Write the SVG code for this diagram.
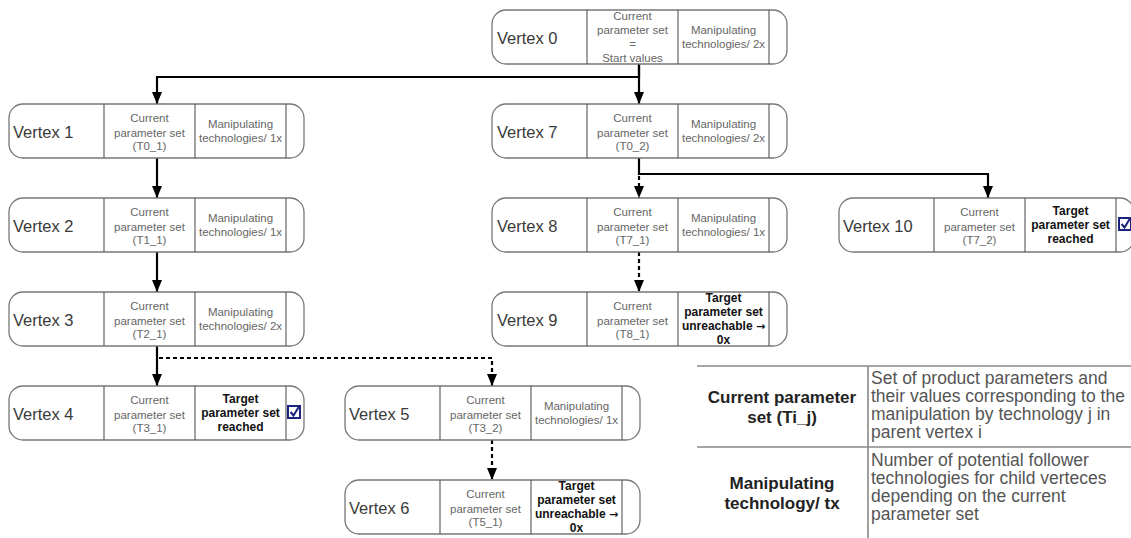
<svg xmlns="http://www.w3.org/2000/svg" width="1131" height="538" viewBox="0 0 1131 538">
<defs>
<style>
.box{fill:#fff;stroke:#777;stroke-width:1.3}
.div{stroke:#555;stroke-width:1.1}
.lbl{font-family:"Liberation Sans",Arial,sans-serif;font-size:16.5px;fill:#3a3a3a}
.cell{font-family:"Liberation Sans",Arial,sans-serif;font-size:11.5px;fill:#666;text-anchor:middle}
.bold{font-family:"Liberation Sans",Arial,sans-serif;font-size:12px;font-weight:bold;fill:#111;text-anchor:middle}
.arr{font-family:"DejaVu Sans",sans-serif;font-size:11px}
.conn{fill:none;stroke:#000;stroke-width:2.2}
.dot{stroke-dasharray:4 3}
.chk{fill:#fff;stroke:#1a237e;stroke-width:2}
.chkm{fill:none;stroke:#1a237e;stroke-width:2}
.tl{stroke:#888;stroke-width:1.6}
.lgb{font-family:"Liberation Sans",Arial,sans-serif;font-size:17px;font-weight:bold;fill:#222;text-anchor:middle}
.lgt{font-family:"Liberation Sans",Arial,sans-serif;font-size:17.5px;fill:#555}
</style>
<marker id="ah" markerUnits="userSpaceOnUse" markerWidth="12" markerHeight="10" viewBox="0 0 12 10" refX="12" refY="5" orient="auto">
<path d="M0,0 L12,5 L0,10 z" fill="#000"/>
</marker>
<g id="shell">
<rect class="box" x="0" y="0" width="295" height="54" rx="14" ry="14"/>
<line class="div" x1="95" y1="0" x2="95" y2="54"/>
<line class="div" x1="186" y1="0" x2="186" y2="54"/>
<line class="div" x1="277" y1="0" x2="277" y2="54"/>
</g>
</defs>

<g id="connectors">
<path class="conn" d="M639,64 V77 H157 V104" marker-end="url(#ah)"/>
<path class="conn" d="M639,64 V104" marker-end="url(#ah)"/>
<path class="conn" d="M157,158 V198" marker-end="url(#ah)"/>
<path class="conn" d="M157,252 V292" marker-end="url(#ah)"/>
<path class="conn" d="M157,346 V386" marker-end="url(#ah)"/>
<path class="conn dot" d="M159,358 H492 V386" marker-end="url(#ah)"/>
<path class="conn" d="M639,158 V174 H988 V198" marker-end="url(#ah)"/>
<path class="conn dot" d="M639,176 V198" marker-end="url(#ah)"/>
<path class="conn dot" d="M639,252 V292" marker-end="url(#ah)"/>
<path class="conn dot" d="M492,440 V480" marker-end="url(#ah)"/>
</g>

<g id="vertex0" transform="translate(492,10)">
<use href="#shell"/>
<text class="lbl" x="5" y="34">Vertex 0</text>
<text class="cell" x="140.5" y="10">Current</text>
<text class="cell" x="140.5" y="24">parameter set</text>
<text class="cell" x="140.5" y="38">=</text>
<text class="cell" x="140.5" y="52">Start values</text>
<text class="cell" x="231.5" y="24">Manipulating</text>
<text class="cell" x="231.5" y="38">technologies/ 2x</text>
</g>

<g id="vertex1" transform="translate(9,104)">
<use href="#shell"/>
<text class="lbl" x="4" y="34">Vertex 1</text>
<text class="cell" x="140.5" y="18">Current</text>
<text class="cell" x="140.5" y="32.5">parameter set</text>
<text class="cell" x="140.5" y="46">(T0_1)</text>
<text class="cell" x="231.5" y="24">Manipulating</text>
<text class="cell" x="231.5" y="38">technologies/ 1x</text>
</g>

<g id="vertex2" transform="translate(9,198)">
<use href="#shell"/>
<text class="lbl" x="4" y="34">Vertex 2</text>
<text class="cell" x="140.5" y="18">Current</text>
<text class="cell" x="140.5" y="32.5">parameter set</text>
<text class="cell" x="140.5" y="46">(T1_1)</text>
<text class="cell" x="231.5" y="24">Manipulating</text>
<text class="cell" x="231.5" y="38">technologies/ 1x</text>
</g>

<g id="vertex3" transform="translate(9,292)">
<use href="#shell"/>
<text class="lbl" x="4" y="34">Vertex 3</text>
<text class="cell" x="140.5" y="18">Current</text>
<text class="cell" x="140.5" y="32.5">parameter set</text>
<text class="cell" x="140.5" y="46">(T2_1)</text>
<text class="cell" x="231.5" y="24">Manipulating</text>
<text class="cell" x="231.5" y="38">technologies/ 2x</text>
</g>

<g id="vertex4" transform="translate(9,386)">
<use href="#shell"/>
<text class="lbl" x="4" y="34">Vertex 4</text>
<text class="cell" x="140.5" y="18">Current</text>
<text class="cell" x="140.5" y="32.5">parameter set</text>
<text class="cell" x="140.5" y="46">(T3_1)</text>
<text class="bold" x="231.5" y="17">Target</text>
<text class="bold" x="231.5" y="31">parameter set</text>
<text class="bold" x="231.5" y="45">reached</text>
<rect class="chk" x="279" y="20" width="12" height="12"/>
<path class="chkm" d="M281.5,26 L284.5,29.5 L290,20.5"/>
</g>

<g id="vertex5" transform="translate(345,386)">
<use href="#shell"/>
<text class="lbl" x="4" y="34">Vertex 5</text>
<text class="cell" x="140.5" y="18">Current</text>
<text class="cell" x="140.5" y="32.5">parameter set</text>
<text class="cell" x="140.5" y="46">(T3_2)</text>
<text class="cell" x="231.5" y="24">Manipulating</text>
<text class="cell" x="231.5" y="38">technologies/ 1x</text>
</g>

<g id="vertex6" transform="translate(345,480)">
<use href="#shell"/>
<text class="lbl" x="4" y="34">Vertex 6</text>
<text class="cell" x="140.5" y="18">Current</text>
<text class="cell" x="140.5" y="32.5">parameter set</text>
<text class="cell" x="140.5" y="46">(T5_1)</text>
<text class="bold" x="231.5" y="10">Target</text>
<text class="bold" x="231.5" y="24">parameter set</text>
<text class="bold" x="231.5" y="38">unreachable <tspan class="arr">→</tspan></text>
<text class="bold" x="231.5" y="52">0x</text>
</g>

<g id="vertex7" transform="translate(492,104)">
<use href="#shell"/>
<text class="lbl" x="5" y="34">Vertex 7</text>
<text class="cell" x="140.5" y="18">Current</text>
<text class="cell" x="140.5" y="32.5">parameter set</text>
<text class="cell" x="140.5" y="46">(T0_2)</text>
<text class="cell" x="231.5" y="24">Manipulating</text>
<text class="cell" x="231.5" y="38">technologies/ 2x</text>
</g>

<g id="vertex8" transform="translate(492,198)">
<use href="#shell"/>
<text class="lbl" x="5" y="34">Vertex 8</text>
<text class="cell" x="140.5" y="18">Current</text>
<text class="cell" x="140.5" y="32.5">parameter set</text>
<text class="cell" x="140.5" y="46">(T7_1)</text>
<text class="cell" x="231.5" y="24">Manipulating</text>
<text class="cell" x="231.5" y="38">technologies/ 1x</text>
</g>

<g id="vertex9" transform="translate(492,292)">
<use href="#shell"/>
<text class="lbl" x="5" y="34">Vertex 9</text>
<text class="cell" x="140.5" y="18">Current</text>
<text class="cell" x="140.5" y="32.5">parameter set</text>
<text class="cell" x="140.5" y="46">(T8_1)</text>
<text class="bold" x="231.5" y="10">Target</text>
<text class="bold" x="231.5" y="24">parameter set</text>
<text class="bold" x="231.5" y="38">unreachable <tspan class="arr">→</tspan></text>
<text class="bold" x="231.5" y="52">0x</text>
</g>

<g id="vertex10" transform="translate(839,198)">
<use href="#shell"/>
<text class="lbl" x="4" y="34">Vertex 10</text>
<text class="cell" x="140.5" y="18">Current</text>
<text class="cell" x="140.5" y="32.5">parameter set</text>
<text class="cell" x="140.5" y="46">(T7_2)</text>
<text class="bold" x="231.5" y="17">Target</text>
<text class="bold" x="231.5" y="31">parameter set</text>
<text class="bold" x="231.5" y="45">reached</text>
<rect class="chk" x="280" y="20" width="12" height="12"/>
<path class="chkm" d="M282.5,26 L285.5,29.5 L291,20.5"/>
</g>

<g id="legend">
<line class="tl" x1="697" y1="366" x2="1131" y2="366"/>
<line class="tl" x1="697" y1="447" x2="1131" y2="447"/>
<line class="tl" x1="868" y1="366" x2="868" y2="538"/>
<text class="lgb" x="782" y="403">Current parameter</text>
<text class="lgb" x="782" y="423">set (Ti_j)</text>
<text class="lgb" x="782" y="489">Manipulating</text>
<text class="lgb" x="782" y="509">technology/ tx</text>
<text class="lgt" x="871" y="384">Set of product parameters and</text>
<text class="lgt" x="871" y="402">their values corresponding  to the</text>
<text class="lgt" x="871" y="420">manipulation by technology j in</text>
<text class="lgt" x="871" y="438">parent vertex i</text>
<text class="lgt" x="871" y="466">Number of potential follower</text>
<text class="lgt" x="871" y="484">technologies for child verteces</text>
<text class="lgt" x="871" y="502">depending on the current</text>
<text class="lgt" x="871" y="520">parameter set</text>
</g>
</svg>
